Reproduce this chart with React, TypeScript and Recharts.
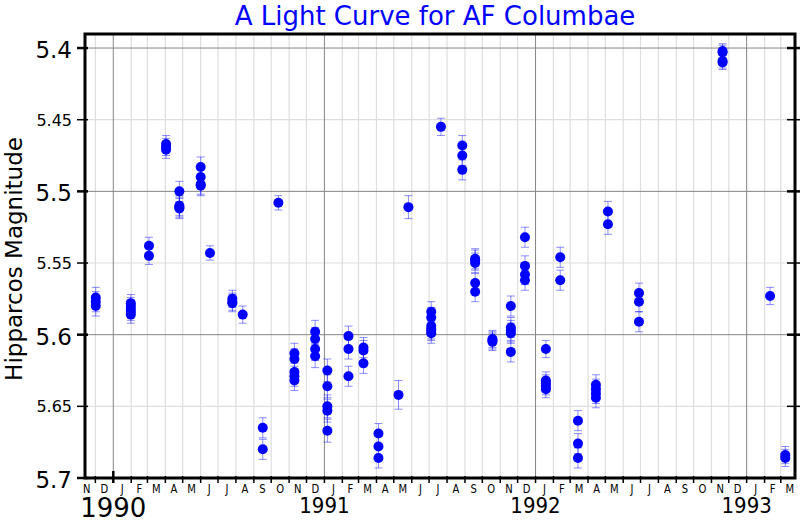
import React from "react";
import {
  ScatterChart,
  Scatter,
  XAxis,
  YAxis,
  CartesianGrid,
  ErrorBar,
  ReferenceArea,
} from "recharts";

// observation epochs (fractional year) and the magnitudes measured at each
const epochs = [
  1989.917, 1990.083, 1990.169, 1990.25, 1990.313, 1990.414, 1990.458,
  1990.564, 1990.613, 1990.708, 1990.782, 1990.858, 1990.956, 1991.014,
  1991.114, 1991.185, 1991.256, 1991.351, 1991.398, 1991.506, 1991.552,
  1991.653, 1991.714, 1991.796, 1991.883, 1991.95, 1992.049, 1992.117,
  1992.201, 1992.286, 1992.343, 1992.49, 1992.886, 1993.111, 1993.183,
];

const magnitudes = [
  [5.574, 5.577, 5.58],
  [5.578, 5.58, 5.582, 5.584, 5.586],
  [5.538, 5.545],
  [5.467, 5.469, 5.471],
  [5.5, 5.51, 5.511, 5.512],
  [5.483, 5.49, 5.495, 5.496],
  [5.543],
  [5.575, 5.577, 5.578],
  [5.586],
  [5.665, 5.68],
  [5.508],
  [5.613, 5.617, 5.626, 5.629, 5.632],
  [5.598, 5.603, 5.61, 5.615],
  [5.625, 5.636, 5.65, 5.653, 5.667],
  [5.601, 5.61, 5.629],
  [5.609, 5.611, 5.62],
  [5.669, 5.678, 5.686],
  [5.642],
  [5.511],
  [5.584, 5.588, 5.594, 5.596, 5.597, 5.599],
  [5.455],
  [5.468, 5.475, 5.485],
  [5.547, 5.548, 5.55, 5.564, 5.57],
  [5.603, 5.604, 5.605],
  [5.58, 5.595, 5.597, 5.599, 5.612],
  [5.532, 5.552, 5.558, 5.562],
  [5.61, 5.632, 5.634, 5.636, 5.638],
  [5.546, 5.562],
  [5.66, 5.676, 5.686],
  [5.635, 5.638, 5.641, 5.644],
  [5.514, 5.523],
  [5.571, 5.577, 5.591],
  [5.402, 5.403, 5.409, 5.41],
  [5.573],
  [5.684, 5.686],
];

const magErrors = [
  0.007, 0.006, 0.006, 0.006, 0.007, 0.007, 0.005, 0.006, 0.006, 0.007,
  0.005, 0.007, 0.008, 0.008, 0.007, 0.007, 0.007, 0.01, 0.008, 0.007,
  0.006, 0.007, 0.007, 0.006, 0.007, 0.007, 0.006, 0.007, 0.007, 0.007,
  0.007, 0.007, 0.005, 0.006, 0.006,
];

const monthLetters = ["J", "F", "M", "A", "M", "J", "J", "A", "S", "O", "N", "D"];
const yearLabels = [1990, 1991, 1992, 1993];
const magTicks = [5.4, 5.45, 5.5, 5.55, 5.6, 5.65, 5.7];
const majorMags = [5.4, 5.5, 5.6];
const minorMags = [5.45, 5.55, 5.65];

const timeDomain = [1989.866, 1993.229];
const magDomain = [5.3902, 5.7];

const FONT = "DejaVu Sans";

const data = epochs.flatMap((t, i) =>
  magnitudes[i].map((m) => ({ t, mag: m, err: magErrors[i] }))
);

function fracYear(y: number, m: number) {
  const start = Date.UTC(y, 0, 1);
  const len = Date.UTC(y + 1, 0, 1) - start;
  return y + (Date.UTC(y, m, 1) - start) / len;
}

// month boundaries + month centres for the calendar axis
const tickInfo = new Map<number, { kind: string; label: string }>();
const monthLines: number[] = [];
for (let y = 1989; y <= 1993; y++) {
  for (let m = 0; m < 12; m++) {
    const b = fracYear(y, m);
    const mid = (b + fracYear(y, m + 1)) / 2;
    if (b >= timeDomain[0] && b <= timeDomain[1]) {
      const isYear = m === 0 && yearLabels.includes(y);
      tickInfo.set(b, { kind: isYear ? "year" : "month", label: String(y) });
      if (!isYear) monthLines.push(b);
    }
    if (mid >= timeDomain[0] && mid <= timeDomain[1]) {
      tickInfo.set(mid, { kind: "mid", label: monthLetters[m] });
    }
  }
}
const timeTicks = Array.from(tickInfo.keys()).sort((a, b) => a - b);
const yearLines = yearLabels.map((y) => fracYear(y, 0));

function TimeTick(props: any) {
  const { x, y, payload } = props;
  const info = tickInfo.get(payload.value);
  if (!info) return null;
  if (info.kind === "mid") {
    return (
      <text
        transform={`translate(${x},${y + 15}) scale(0.8,1)`}
        textAnchor="middle"
        fontSize={12.5}
        fontFamily={FONT}
        fill="#000"
      >
        {info.label}
      </text>
    );
  }
  if (info.kind === "month") {
    return <line x1={x} x2={x} y1={y - 2} y2={y + 5} stroke="#000" strokeWidth={1.5} />;
  }
  const first = info.label === "1990";
  return (
    <g>
      <line
        x1={x}
        x2={x}
        y1={y - (first ? 7 : 2)}
        y2={y + 5}
        stroke="#000"
        strokeWidth={first ? 2.5 : 1.5}
      />
      <text
        transform={`translate(${x},${y + (first ? 38.5 : 35)}) scale(${first ? 1 : 0.9},1)`}
        textAnchor="middle"
        fontSize={first ? 26 : 22}
        fontFamily={FONT}
        fill="#000"
      >
        {info.label}
      </text>
    </g>
  );
}

function MagTick(props: any) {
  const { x, y, payload } = props;
  const minor = minorMags.includes(payload.value);
  return (
    <g>
      <line x1={x - 8} x2={x + 3} y1={y} y2={y} stroke="#000" strokeWidth={minor ? 1.5 : 2.5} />
      <text
        x={x - 13}
        y={y + (minor ? 6 : 10)}
        textAnchor="end"
        fontSize={minor ? 16 : 23}
        fontFamily={FONT}
        fill="#000"
      >
        {String(payload.value)}
      </text>
    </g>
  );
}

function RightTick(props: any) {
  const { x, y, payload } = props;
  const major = majorMags.includes(payload.value);
  return (
    <line x1={x - 8} x2={x + 5} y1={y} y2={y} stroke="#000" strokeWidth={major ? 2.5 : 1.5} />
  );
}

export default function App() {
  return (
    <div style={{ position: "absolute", left: 0, top: 0, width: 800, height: 520, background: "#fff" }}>
      <ScatterChart width={800} height={520} margin={{ top: 34, right: 0, bottom: 0, left: 0 }}>
        <CartesianGrid
          stroke="#dedede"
          strokeWidth={1.2}
          verticalValues={monthLines}
          horizontalValues={minorMags}
        />
        <CartesianGrid
          stroke="#858585"
          strokeWidth={1}
          verticalValues={yearLines}
          horizontalValues={majorMags}
        />
        <XAxis
          dataKey="t"
          type="number"
          domain={timeDomain}
          allowDataOverflow
          ticks={timeTicks}
          interval={0}
          tick={<TimeTick />}
          tickLine={false}
          axisLine={false}
          tickSize={0}
          tickMargin={0}
          height={42}
        />
        <YAxis
          dataKey="mag"
          type="number"
          domain={magDomain}
          reversed
          allowDataOverflow
          ticks={magTicks}
          interval={0}
          tick={<MagTick />}
          tickLine={false}
          axisLine={false}
          tickSize={0}
          tickMargin={0}
          width={85}
        />
        <YAxis
          yAxisId="r"
          orientation="right"
          type="number"
          domain={magDomain}
          reversed
          allowDataOverflow
          ticks={magTicks.slice(0, 6)}
          interval={0}
          tick={<RightTick />}
          tickLine={false}
          axisLine={false}
          tickSize={0}
          tickMargin={0}
          width={5}
        />
        <ReferenceArea
          x1={timeDomain[0]}
          x2={timeDomain[1]}
          y1={magDomain[0]}
          y2={magDomain[1]}
          fill="none"
          stroke="#000"
          strokeWidth={3}
          ifOverflow="visible"
        />
        <Scatter
          data={data}
          isAnimationActive={false}
          shape={(p: any) => <circle cx={p.cx} cy={p.cy} r={5} fill="#0000ff" />}
        >
          <ErrorBar
            dataKey="err"
            direction="y"
            width={4}
            stroke="rgba(0,0,255,0.45)"
            strokeWidth={1}
            isAnimationActive={false}
          />
        </Scatter>
      </ScatterChart>
      <svg
        width={800}
        height={520}
        style={{ position: "absolute", left: 0, top: 0, pointerEvents: "none" }}
      >
        <text x={435} y={25} textAnchor="middle" fontSize={26} fontFamily={FONT} fill="#0000ff">
          A Light Curve for AF Columbae
        </text>
        <text
          transform="translate(22,259) rotate(-90)"
          textAnchor="middle"
          fontSize={23}
          fontFamily={FONT}
          fill="#000"
        >
          Hipparcos Magnitude
        </text>
      </svg>
    </div>
  );
}
